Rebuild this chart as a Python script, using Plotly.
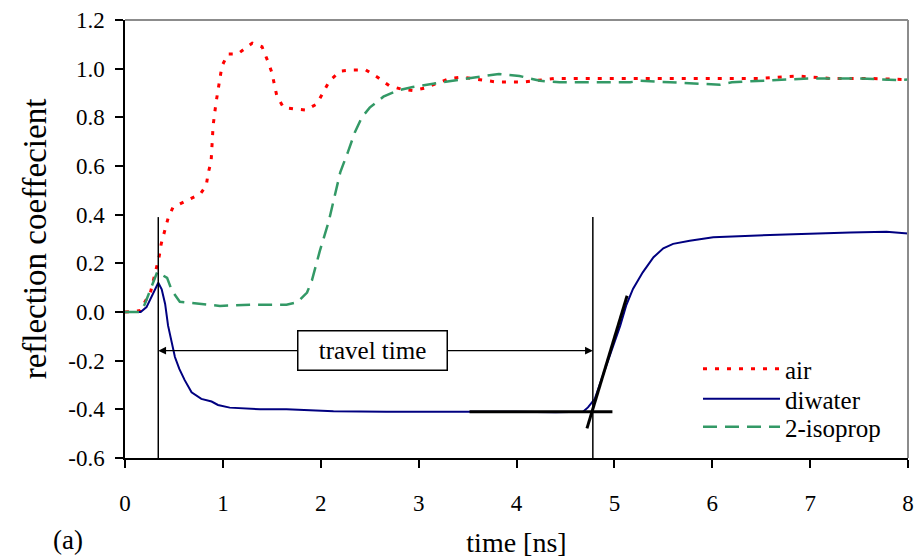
import plotly.graph_objects as go

# ---- data ----
air_t = [0, 0.15, 0.26, 0.32, 0.35, 0.37, 0.40, 0.44, 0.49, 0.63, 0.77, 0.83, 0.85, 0.88, 0.89, 0.90,
         0.93, 0.95, 0.99, 1.05, 1.15, 1.30, 1.40, 1.46, 1.50, 1.55, 1.62, 1.72, 1.85, 1.96, 2.09,
         2.20, 2.33, 2.46, 2.58, 2.70, 2.83, 2.94, 3.06, 3.19, 3.32, 3.44, 3.6, 3.8, 4.06, 4.4,
         5.0, 5.5, 6.0, 6.5, 6.86, 7.2, 7.6, 8.0]
air_r = [0, 0.005, 0.08, 0.185, 0.23, 0.28, 0.33, 0.385, 0.43, 0.456, 0.485, 0.52, 0.57, 0.62, 0.72, 0.765,
         0.86, 0.917, 1.01, 1.06, 1.06, 1.105, 1.09, 1.03, 0.985, 0.89, 0.84, 0.835, 0.83, 0.855, 0.95,
         0.99, 0.995, 0.995, 0.965, 0.93, 0.915, 0.91, 0.92, 0.94, 0.96, 0.965, 0.955, 0.945, 0.945, 0.96,
         0.96, 0.96, 0.96, 0.96, 0.97, 0.96, 0.96, 0.955]

wat_t = [0, 0.16, 0.22, 0.34, 0.375, 0.41, 0.44, 0.48, 0.51, 0.555, 0.61, 0.68, 0.78, 0.885, 0.95, 1.07,
         1.38, 1.65, 2.13, 2.67, 3.22, 3.52, 4.0, 4.4, 4.68, 4.73, 4.80, 4.885, 4.97, 5.06, 5.12, 5.19,
         5.29, 5.40, 5.50, 5.60, 5.77, 6.01, 6.38, 6.83, 7.41, 7.78, 8.0]
wat_r = [0, 0, 0.02, 0.12, 0.093, 0.033, -0.056, -0.13, -0.185, -0.234, -0.28, -0.33, -0.357, -0.368,
         -0.382, -0.393, -0.40, -0.40, -0.408, -0.41, -0.412, -0.41, -0.41, -0.412, -0.41, -0.392, -0.357,
         -0.262, -0.16, -0.056, 0.026, 0.095, 0.163, 0.225, 0.262, 0.28, 0.293, 0.307, 0.314, 0.32, 0.327,
         0.33, 0.323]

iso_t = [0, 0.15, 0.2, 0.29, 0.33, 0.43, 0.48, 0.56, 0.77, 0.97, 1.31, 1.65, 1.76, 1.86, 1.91, 1.99,
         2.08, 2.15, 2.20, 2.28, 2.35, 2.42, 2.50, 2.64, 2.78, 2.94, 3.13, 3.32, 3.57, 3.82, 4.03, 4.24,
         4.44, 5.16, 5.26, 5.57, 6.08, 6.2, 6.54, 7.0, 7.5, 7.9, 8.0]
iso_r = [0, 0, 0.03, 0.12, 0.165, 0.14, 0.087, 0.042, 0.033, 0.025, 0.03, 0.03, 0.04, 0.08, 0.13, 0.25,
         0.37, 0.485, 0.575, 0.66, 0.74, 0.80, 0.84, 0.885, 0.91, 0.925, 0.937, 0.95, 0.964, 0.978, 0.97,
         0.95, 0.944, 0.944, 0.95, 0.944, 0.934, 0.944, 0.95, 0.96, 0.96, 0.953, 0.955]

# travel-time construction (data coordinates)
t_start = 0.34          # incident reflection
t_end = 4.78            # second reflection
marker_top = 0.39
marker_bottom = -0.6
arrow_level = -0.159
label_t = 2.53
base_t = [3.52, 4.98]   # horizontal tangent
base_r = [-0.41, -0.41]
slope_t = [4.72, 5.13]  # rising tangent
slope_r = [-0.478, 0.067]

x_ticks = [0, 1, 2, 3, 4, 5, 6, 7, 8]
y_ticks = [-0.6, -0.4, -0.2, 0.0, 0.2, 0.4, 0.6, 0.8, 1.0, 1.2]

FONT = "Liberation Serif"

fig = go.Figure()
fig.add_trace(go.Scatter(x=air_t, y=air_r, mode="lines", name="air", legend="legend",
                         line=dict(color="#FF0000", width=3, dash="4px,8px")))
fig.add_trace(go.Scatter(x=wat_t, y=wat_r, mode="lines", name="diwater", legend="legend2",
                         line=dict(color="#000080", width=2)))
fig.add_trace(go.Scatter(x=iso_t, y=iso_r, mode="lines", name="2-isoprop", legend="legend3",
                         line=dict(color="#339966", width=2.5, dash="14px,8px")))

# tangents
fig.add_trace(go.Scatter(x=base_t, y=base_r, mode="lines", showlegend=False,
                         line=dict(color="black", width=3), hoverinfo="skip"))
fig.add_trace(go.Scatter(x=slope_t, y=slope_r, mode="lines", showlegend=False,
                         line=dict(color="black", width=3), hoverinfo="skip"))

shapes = []
for t in (t_start, t_end):
    shapes.append(dict(type="line", xref="x", yref="y", x0=t, x1=t, y0=marker_bottom, y1=marker_top,
                       line=dict(color="black", width=1.5)))
# grey frame on top and right
shapes.append(dict(type="line", xref="paper", yref="paper", x0=0, x1=1, y0=1, y1=1,
                   line=dict(color="#8c8c8c", width=2)))
shapes.append(dict(type="line", xref="paper", yref="paper", x0=1, x1=1, y0=0, y1=1,
                   line=dict(color="#8c8c8c", width=2)))

annotations = [
    dict(x=t_start, y=arrow_level, ax=label_t, ay=arrow_level, xref="x", yref="y", axref="x", ayref="y",
         text="", showarrow=True, arrowhead=2, arrowsize=1.2, arrowwidth=1.3, arrowcolor="black"),
    dict(x=t_end, y=arrow_level, ax=label_t, ay=arrow_level, xref="x", yref="y", axref="x", ayref="y",
         text="", showarrow=True, arrowhead=2, arrowsize=1.2, arrowwidth=1.3, arrowcolor="black"),
    dict(x=label_t, y=arrow_level, xref="x", yref="y", text="travel time", showarrow=False,
         font=dict(family=FONT, size=25, color="black"), bgcolor="white", bordercolor="black",
         borderwidth=1.5, width=146, height=36),
    dict(x=-0.073, y=-0.187, xref="paper", yref="paper", text="(a)", showarrow=False,
         font=dict(family=FONT, size=27, color="black"), xanchor="center", yanchor="middle"),
]

leg_common = dict(xanchor="left", yanchor="middle", bgcolor="rgba(0,0,0,0)",
                  font=dict(family=FONT, size=25, color="black"), itemwidth=77)

fig.update_layout(
    width=917, height=559,
    margin=dict(l=125, r=9, t=20, b=101, autoexpand=False),
    paper_bgcolor="white", plot_bgcolor="white",
    font=dict(family=FONT, size=23, color="black"),
    shapes=shapes, annotations=annotations,
    showlegend=True,
    legend=dict(x=0.7318, y=0.2031, **leg_common),
    legend2=dict(x=0.7318, y=0.1347, **leg_common),
    legend3=dict(x=0.7318, y=0.0707, **leg_common),
)
fig.update_xaxes(range=[0, 8], tickvals=x_ticks, ticktext=[str(v) for v in x_ticks],
                 automargin=False,
                 showgrid=False, zeroline=False, showline=True, linecolor="black", linewidth=1.5,
                 ticks="outside", ticklen=8, tickcolor="black", tickwidth=1.5, ticklabelstandoff=16,
                 tickfont=dict(family=FONT, size=23),
                 title=dict(text="time [ns]", font=dict(family=FONT, size=28), standoff=17))
fig.update_yaxes(range=[-0.6, 1.2], tickvals=y_ticks, ticktext=[f"{v:.1f}" for v in y_ticks],
                 automargin=False,
                 showgrid=False, zeroline=False, showline=True, linecolor="black", linewidth=1.5,
                 ticks="outside", ticklen=8, tickcolor="black", tickwidth=1.5, ticklabelstandoff=6,
                 tickfont=dict(family=FONT, size=23),
                 title=dict(text="reflection coeffecient", font=dict(family=FONT, size=33), standoff=12))

fig.write_html("out.html", config={"displayModeBar": False},
               post_script="document.body.style.margin='0';")
